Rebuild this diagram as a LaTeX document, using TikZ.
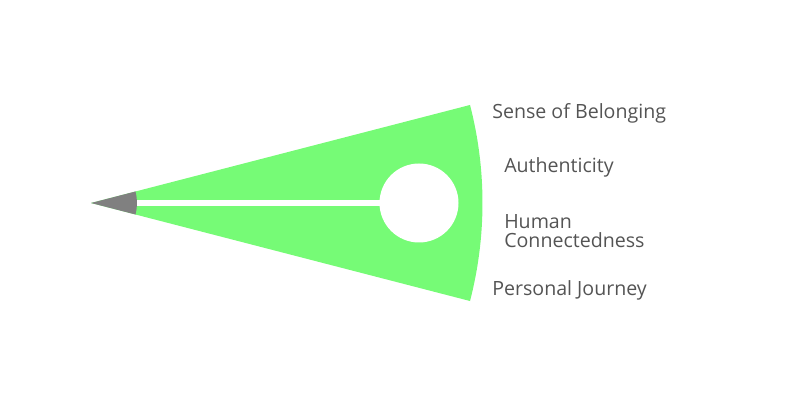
\documentclass[tikz,border=0pt]{standalone}
\usepackage{fontspec}
\setmainfont{Open Sans}
\usepackage{tikz}
\usepackage{xcolor}
\usetikzlibrary{calc,positioning}
\definecolor{leafgreen}{RGB}{118,251,118}
\definecolor{tipgray}{RGB}{128,128,128}
\definecolor{labelgray}{RGB}{84,84,84}

\begin{document}
\begin{tikzpicture}[x=0.75pt,y=0.75pt,
  lbl/.style={anchor=base west,inner sep=0pt,text=labelgray,font=\fontsize{14.7}{14.3}\selectfont}]
  \useasboundingbox (0,0) rectangle (800,403);
  \coordinate (O) at (91,200);
  \coordinate (L1) at (137,200);
  \coordinate (L2) at (382,200);
  \coordinate (C) at (419,200);
  \fill[leafgreen] (O)--++(14.5:391.5) arc[start angle=14.5,end angle=-14.5,radius=391.5]--cycle;
  \fill[tipgray] (O)--++(14.5:46) arc[start angle=14.5,end angle=-14.5,radius=46]--cycle;
  \draw[white,line width=4.5pt] (L1)--(L2);
  \fill[white] (C) circle[radius=39.5];
  \node[lbl] (belong) at (492,284) {Sense of Belonging};
  \node[lbl] (auth) at (504,230) {Authenticity};
  \node[lbl,align=left] (human) at (504,155) {Human\\Connectedness};
  \node[lbl] (journey) at (492,107) {Personal Journey};
\end{tikzpicture}
\end{document}
